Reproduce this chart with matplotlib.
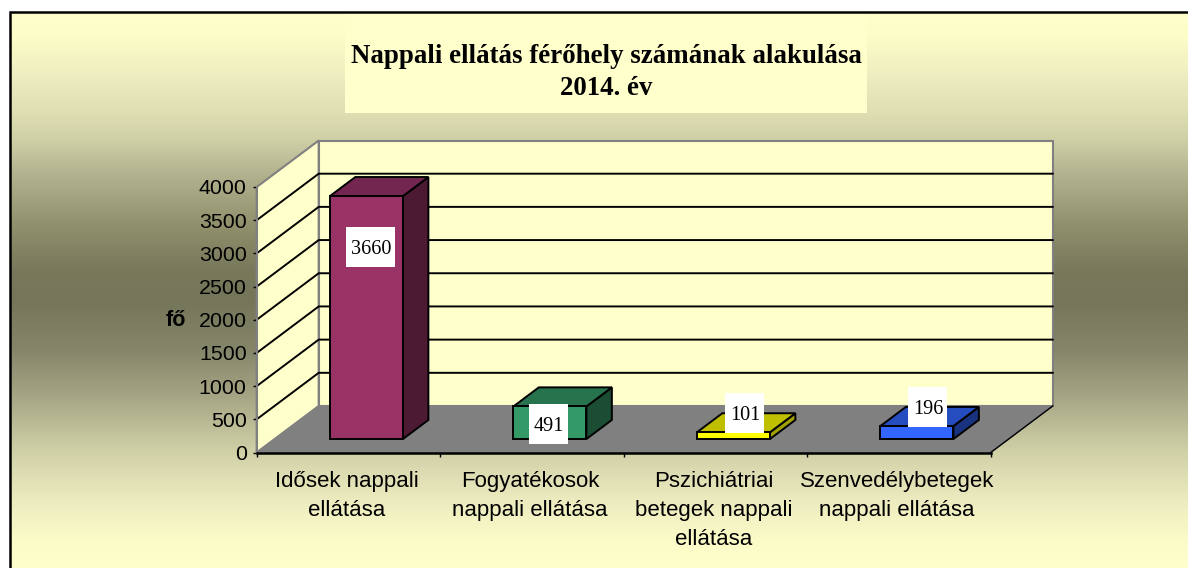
import numpy as np
import matplotlib
matplotlib.use("Agg")
import matplotlib.pyplot as plt
from matplotlib.patches import Polygon, Rectangle
from matplotlib.colors import to_rgb

categories = ["Idősek nappali\nellátása", "Fogyatékosok\nnappali ellátása",
              "Pszichiátriai\nbetegek nappali\nellátása", "Szenvedélybetegek\nnappali ellátása"]
values = [3660, 491, 101, 196]
y_ticks = [0, 500, 1000, 1500, 2000, 2500, 3000, 3500, 4000]
title = "Nappali ellátás férőhely számának alakulása\n2014. év"
y_label = "fő"
front_colors = ["#993366", "#339966", "#FFFF00", "#3366FF"]
top_colors = ["#732650", "#26734D", "#BFBF00", "#264DBF"]
side_colors = ["#4D1A33", "#1A4D33", "#A0A000", "#1A3380"]

W, H = 1188, 568
fig = plt.figure(figsize=(W / 100, H / 100), dpi=100, facecolor="white")

# background gradient panel
bg = fig.add_axes([0, 0, 1, 1], zorder=0)
bg.set_xlim(0, W); bg.set_ylim(H, 0); bg.axis("off")
stops_y = [12, 35, 80, 113, 140, 170, 220, 270, 300, 350, 400, 450, 500, 540, 568]
stops_c = ["#ffffcc", "#fdfdc8", "#ecebbf", "#dedeb2", "#cfcfa6", "#b5b592", "#93936f", "#78785b",
           "#75755a", "#85856a", "#a8a887", "#cfcfa6", "#ecebbf", "#fbfbc8", "#ffffcc"]
rows = np.arange(12, H + 1)
rgb = np.array([to_rgb(c) for c in stops_c])
grad = np.stack([np.interp(rows, stops_y, rgb[:, i]) for i in range(3)], axis=1)[:, None, :]
bg.imshow(grad, extent=[9.5, W, H, 12], aspect="auto", interpolation="nearest", zorder=0)
bg.set_xlim(0, W); bg.set_ylim(H, 0)
bg.plot([9.5, 9.5, W], [H, 12, 12], color="black", lw=1.8, zorder=2, solid_joinstyle="miter")
bg.add_patch(Rectangle((345, 13.5), 522, 99.5, fc="#FFFFCC", ec="none", zorder=1))
bg.text(606, 72.5, title, ha="center", va="center", family="Liberation Serif", weight="bold",
        fontsize=19.4, color="black", linespacing=1.42, zorder=3)

# main axes: front plane of the 3D box
x0, x1, ybot, ytop = 256.7, 990.7, 452.5, 187.0
ax = fig.add_axes([x0 / W, 1 - ybot / H, (x1 - x0) / W, (ybot - ytop) / H], zorder=1)
ax.patch.set_visible(False)
ax.set_xlim(0, len(categories)); ax.set_ylim(0, 4000)
px_x = (x1 - x0) / len(categories)
px_y = (ybot - ytop) / 4000
DX, DV = 62.0 / px_x, 46.5 / px_y

def P(x, v, d=0.0):
    return (x + d * DX, v + d * DV)

n = len(categories)
gc = "#808080"
ax.add_patch(Polygon([P(0, 0), P(0, 0, 1), P(0, 4000, 1), P(0, 4000)], fc="#FFFFCC", ec=gc, lw=1.5, clip_on=False, zorder=1))
ax.add_patch(Polygon([P(0, 0, 1), P(n, 0, 1), P(n, 4000, 1), P(0, 4000, 1)], fc="#FFFFCC", ec=gc, lw=1.5, clip_on=False, zorder=1))
for t in y_ticks[1:-1]:
    ax.plot(*zip(P(0, t), P(0, t, 1), P(n, t, 1)), color="black", lw=1.4, clip_on=False, zorder=2)
ax.add_patch(Polygon([P(0, 0), P(n, 0), P(n, 0, 1), P(0, 0, 1)], fc="#808080", ec=gc, lw=1.0, clip_on=False, zorder=3))
ax.plot(*zip(P(n, 0), P(n, 0, 1)), color="black", lw=1.0, clip_on=False, zorder=3)

gap, bw = 0.301, 0.398
d0, d1 = 0.29, 0.70
for i, v in enumerate(values):
    l, r = i + gap, i + gap + bw
    kw = dict(ec="black", lw=1.4, clip_on=False, zorder=4, joinstyle="miter")
    ax.add_patch(Polygon([P(r, 0, d0), P(r, 0, d1), P(r, v, d1), P(r, v, d0)], fc=side_colors[i], **kw))
    ax.add_patch(Polygon([P(l, v, d0), P(r, v, d0), P(r, v, d1), P(l, v, d1)], fc=top_colors[i], **kw))
    ax.add_patch(Polygon([P(l, 0, d0), P(r, 0, d0), P(r, v, d0), P(l, v, d0)], fc=front_colors[i], **kw))

# value labels on white boxes; offsets in pixels from the centre of each bar's top front edge
label_offsets = [(4.5, -51), (-1, -18), (11.5, 19), (11, 19)]
label_widths = [49, 39, 39, 39]
for i, v in enumerate(values):
    cx, cy = P(i + gap + bw / 2, v, d0)
    cx += label_offsets[i][0] / px_x
    cy += label_offsets[i][1] / px_y
    bw_d, bh_d = label_widths[i] / px_x, 40 / px_y
    ax.add_patch(Rectangle((cx - bw_d / 2, cy - bh_d / 2), bw_d, bh_d, fc="white", ec="none", clip_on=False, zorder=5))
    ax.text(cx, cy, str(v), ha="center", va="center_baseline", family="Liberation Serif", fontsize=14.6,
            color="black", zorder=6, clip_on=False)

for s in ["top", "right"]:
    ax.spines[s].set_visible(False)
ax.spines["left"].set_color(gc); ax.spines["left"].set_linewidth(1.5); ax.spines["left"].set_zorder(3)
ax.spines["bottom"].set_color("black"); ax.spines["bottom"].set_linewidth(1.8); ax.spines["bottom"].set_zorder(4)
ax.set_yticks(y_ticks)
ax.set_xticks(np.arange(n + 1))
ax.set_xticklabels([""] * (n + 1))
ax.set_xticks(np.arange(n) + 0.49, minor=True)
ax.set_xticklabels(categories, minor=True, family="Liberation Sans", fontsize=16.0, linespacing=1.48,
                   va="top", ha="center", color="black")
ax.tick_params(axis="x", which="minor", length=0, pad=13.5)
ax.tick_params(axis="x", which="major", length=3.2, width=1.0, color="black")
ax.tick_params(axis="y", length=3.2, width=1.0, color="black", pad=4, labelsize=15.4, labelcolor="black")
for t in ax.get_yticklabels():
    t.set_family("Liberation Sans")
fig.text(175.5 / W, 1 - 320 / H, y_label, ha="center", va="center", family="Liberation Sans", weight="bold",
         fontsize=15.5, color="black")

fig.savefig("out.png", dpi=100)
